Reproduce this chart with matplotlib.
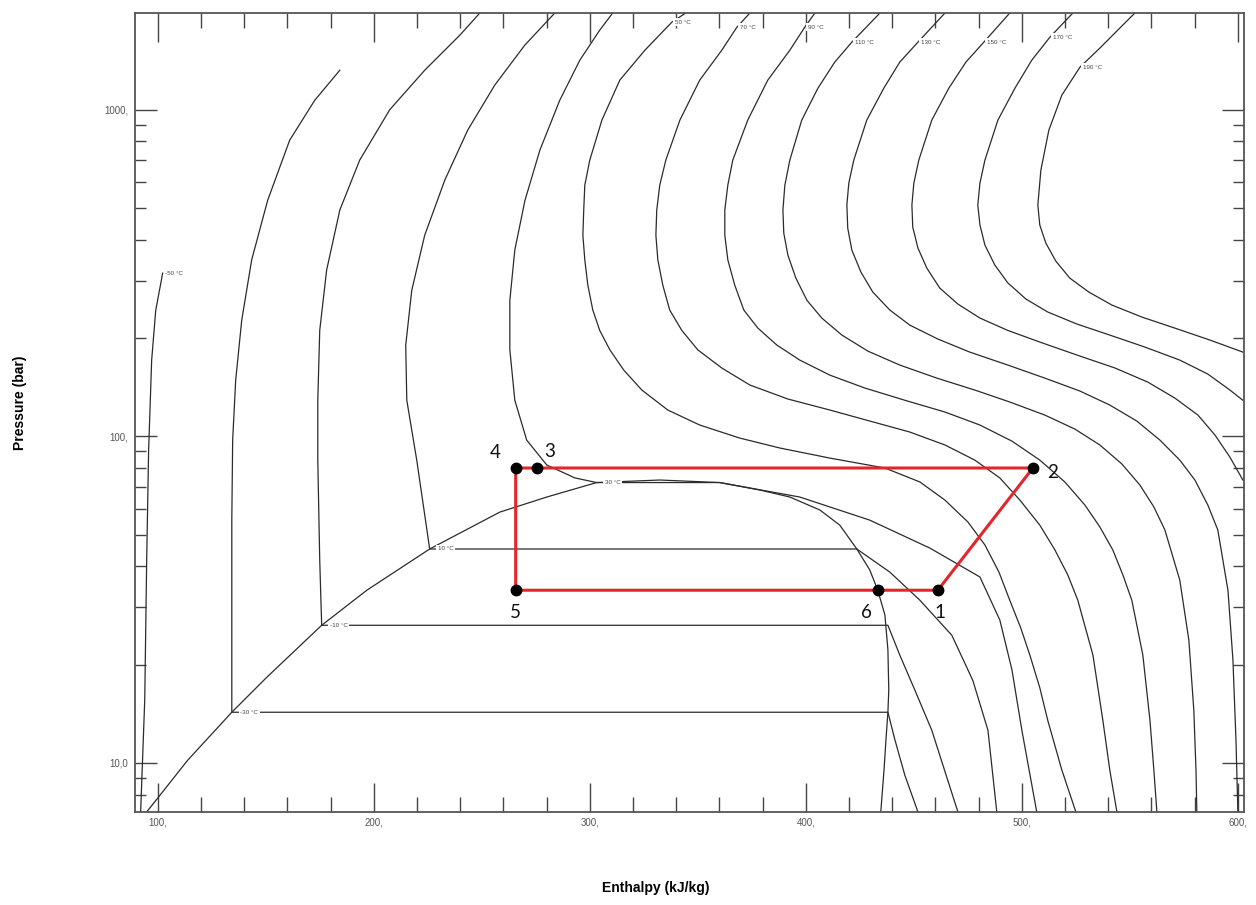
import matplotlib.pyplot as plt
from matplotlib.ticker import FixedLocator

# enthalpy (kJ/kg) and pressure (bar)

# saturation dome: liquid side up to the critical point, then vapour side
sat_h = [94.9, 113.9, 134.3, 150.5, 175.9, 196.8, 225.9, 258.3, 280.1, 303.2, 332.4,
         360.2, 378.7, 392.6, 406.5, 415.7, 423.6, 429.6, 433.3, 436.6, 438.0, 438.4,
         438.0, 437.1, 436.2, 434.7]
sat_p = [7.08, 10.2, 14.3, 18.3, 26.4, 33.8, 45.2, 58.6, 65.2, 72.2, 73.5,
         72.2, 68.5, 65.2, 59.5, 53.5, 45.2, 39.0, 33.8, 28.4, 22.2, 16.7,
         14.3, 11.8, 9.52, 7.08]

# isotherms, each listed from its upper end downwards
iso_m50_h = [102.3, 99.1, 97.2, 95.8, 94.9, 94.0, 92.1]
iso_m50_p = [316, 243.6, 171, 90.8, 41.8, 15.6, 7.08]

iso_m30_h = [184.3, 172.7, 161.1, 150.9, 143.5, 138.9, 136.1, 134.7, 134.3, 134.3, 134.3,
             438.0, 441.2, 445.8, 451.9]
iso_m30_p = [1321, 1069, 807, 528, 347, 227, 148.7, 97.4, 55.4, 27.4, 14.3,
             14.3, 11.8, 9.19, 7.08]

iso_m10_h = [249.1, 239.8, 223.6, 207.4, 193.5, 184.3, 178.2, 175.0, 174.1, 174.1, 175.0, 175.9,
             438.0, 443.5, 450.5, 458.3, 470.4]
iso_m10_p = [1977, 1690, 1321, 1000, 701, 493, 323, 211, 129, 84.6, 41.8, 26.4,
             26.4, 21.4, 16.7, 12.6, 7.08]

iso_10_h = [283.8, 269.9, 256.0, 243.5, 232.9, 223.6, 217.6, 214.8, 215.3, 219.9, 225.9,
            423.6, 438.9, 452.8, 467.6, 477.3, 484.3, 488.4]
iso_10_p = [1977, 1576, 1189, 866, 609, 413, 280, 190, 129, 84.6, 45.2,
            45.2, 38.4, 31.5, 24.6, 17.9, 12.6, 7.08]

iso_30_h = [310.6, 304.6, 295.4, 286.1, 276.9, 270.0, 265.3, 263.0, 263.0, 265.3, 270.8, 280.1,
            293.1, 303.2, 360.2, 397.2, 429.6, 457.4, 480.6, 489.8, 495.4, 500.0, 506.9]
iso_30_p = [1977, 1752, 1418, 1069, 752, 528, 372, 261, 184, 129, 97.4, 81.7,
            74.6, 72.2, 72.2, 65.2, 55.4, 45.5, 37.1, 27.4, 19.3, 12.6, 7.08]

iso_50_h = [344.4, 338.0, 325.5, 313.9, 305.6, 300.0, 297.7, 297.2, 296.8, 297.7, 299.1, 301.4,
            304.6, 309.3, 315.7, 324.1, 336.1, 350.9, 369.4, 388.0, 411.1, 436.6, 452.8, 464.4,
            475.0, 482.9, 489.4, 494.4, 499.5, 503.7, 508.3, 512.0, 518.5, 525.0]
iso_50_p = [1977, 1854, 1521, 1232, 929, 701, 587.8, 493, 413, 347, 290.4, 243.6,
            211, 184, 159.6, 138.6, 120.4, 108.3, 98.8, 92.1, 85.8, 80.0, 72.5, 63.8,
            54.7, 46.5, 38.4, 31.5, 25.9, 21.4, 17.0, 13.5, 9.52, 7.08]

iso_70_h = [374.1, 368.1, 361.1, 350.9, 341.7, 335.2, 332.4, 331.0, 330.6, 331.5, 333.8, 337.0,
            342.6, 350.0, 361.1, 374.1, 391.7, 411.1, 429.6, 448.1, 464.4, 478.2, 489.8, 499.1,
            508.3, 515.3, 521.3, 525.9, 532.9, 537.5, 540.7, 544.0]
iso_70_p = [1977, 1789, 1521, 1232, 929, 701, 587.8, 493, 413, 347, 290.4, 243.6,
            211, 184, 161.9, 143.6, 130.1, 120.4, 111.4, 103.1, 94.1, 84.6, 74.6, 63.8,
            53.5, 44.9, 37.6, 31.5, 21.4, 13.5, 9.52, 7.08]

iso_90_h = [404.2, 399.5, 392.6, 382.4, 373.1, 366.2, 363.9, 362.5, 362.5, 363.9, 367.1, 371.3,
            377.8, 386.6, 397.2, 411.1, 427.3, 445.8, 464.4, 480.6, 495.4, 508.3, 519.9, 529.2,
            536.1, 542.1, 546.8, 550.9, 556.0, 559.3, 561.1, 562.5]
iso_90_p = [1977, 1789, 1521, 1232, 929, 701, 587.8, 493, 413, 347, 290.4, 243.6,
            214.5, 190.3, 171.2, 154.0, 140.6, 129, 118.7, 108.3, 96.7, 84.6, 72.5, 61.6,
            52.8, 44.9, 37.6, 31.5, 21.4, 13.5, 9.52, 7.08]

iso_110_h = [434.3, 421.3, 413.4, 405.6, 398.1, 392.6, 390.3, 389.4, 389.8, 391.7, 395.4,
             400.5, 407.4, 416.7, 428.7, 443.5, 460.6, 478.2, 494.4, 510.6, 524.5, 536.1,
             546.3, 554.6, 561.1, 566.2, 573.1, 577.3, 579.6, 580.6, 581.0]
iso_110_p = [1977, 1610, 1399, 1164, 929, 701, 587.8, 493, 419, 358.8, 305.1,
             261, 230.2, 204.2, 182.4, 165.3, 150.8, 138.6, 127.4, 116.2, 105.3, 94.1,
             82.3, 71.0, 60.8, 51.7, 36.3, 23.8, 14.5, 9.52, 7.08]

iso_130_h = [464.4, 451.9, 443.5, 436.1, 428.2, 422.2, 419.9, 419.0, 419.4, 421.3, 425.5,
             431.0, 438.9, 448.1, 461.1, 475.9, 493.5, 510.6, 526.9, 540.7, 553.2, 563.9,
             573.1, 580.1, 586.1, 590.7, 595.4, 597.7, 599.1, 600.0]
iso_130_p = [1977, 1610, 1399, 1164, 929, 701, 596, 510.5, 434, 372, 318.4,
             276.5, 243.6, 219.1, 198.6, 181.1, 165.3, 150.8, 137.6, 124.7, 111.4, 97.4,
             84.6, 73.5, 61.6, 51.7, 33.8, 20.7, 11.8, 7.08]

iso_150_h = [494.4, 482.4, 474.1, 466.2, 458.3, 452.3, 450.0, 449.1, 449.5, 451.9, 456.0,
             462.0, 470.4, 480.6, 493.5, 508.3, 525.5, 543.1, 558.3, 570.8, 581.5, 589.4,
             596.3, 602.3]
iso_150_p = [1977, 1610, 1399, 1164, 929, 701, 596, 510.5, 437, 377.1, 327.5,
             284.4, 254.1, 230.2, 211, 194.4, 177.4, 161.9, 146.6, 131.0, 116.2, 100.9,
             86.4, 73.5]

iso_170_h = [523.6, 513.0, 504.6, 496.8, 488.9, 482.9, 480.6, 479.6, 480.6, 482.9, 487.5,
             493.5, 501.9, 512.0, 525.5, 540.7, 556.9, 573.1, 586.1, 596.3, 602.3]
iso_170_p = [1977, 1668, 1418, 1164, 929, 701, 596, 510.5, 443.6, 385.1, 334.5,
             295, 263.2, 240.2, 220.7, 204.2, 187.7, 171.2, 155.1, 138.6, 129]

iso_190_h = [552.3, 536.1, 526.9, 518.5, 512.5, 508.8, 507.4, 508.3, 511.1, 515.7, 522.2,
             531.0, 541.7, 555.6, 570.8, 587.0, 602.3]
iso_190_p = [1977, 1544, 1350, 1108, 866, 653, 510.5, 443.6, 390.6, 344.1, 305.1,
             276.5, 252.3, 231.8, 214.5, 197.2, 181.1]

isotherms = [(iso_m50_h, iso_m50_p), (iso_m30_h, iso_m30_p), (iso_m10_h, iso_m10_p),
             (iso_10_h, iso_10_p), (iso_30_h, iso_30_p), (iso_50_h, iso_50_p),
             (iso_70_h, iso_70_p), (iso_90_h, iso_90_p), (iso_110_h, iso_110_p),
             (iso_130_h, iso_130_p), (iso_150_h, iso_150_p), (iso_170_h, iso_170_p),
             (iso_190_h, iso_190_p)]

# temperature labels sitting on the curves near the top of the chart
top_labels = ["-50 °C", "50 °C", "70 °C", "90 °C", "110 °C", "130 °C", "150 °C", "170 °C", "190 °C"]
top_label_h = [102.3, 338.0, 368.1, 399.5, 421.3, 451.9, 482.4, 513.0, 526.9]
top_label_p = [316, 1854, 1789, 1789, 1610, 1610, 1610, 1668, 1350]

# labels written where the isotherm meets the saturated liquid line
dome_labels = ["-30 °C", "-10 °C", "10 °C", "30 °C"]
dome_label_h = [134.3, 175.9, 225.9, 303.2]
dome_label_p = [14.3, 26.4, 45.2, 72.2]

# refrigeration cycle
cycle_names = ["1", "2", "3", "4", "5", "6"]
cycle_h = [461.1, 505.1, 275.5, 265.7, 265.7, 433.3]
cycle_p = [33.8, 80.0, 80.0, 80.0, 33.8, 33.8]
cycle_path = [4, 5, 0, 1, 2, 3, 4]
name_offsets = [(1.5, -16), (14, -3), (9, 12), (-15, 11), (0, -16), (-8, -16)]

x_ticks = [100, 200, 300, 400, 500, 600]
x_tick_labels = ["100,", "200,", "300,", "400,", "500,", "600,"]
y_ticks = [10, 100, 1000]
y_tick_labels = ["10,0", "100,", "1000,"]

plt.rcParams["font.family"] = ["Liberation Sans", "DejaVu Sans"]

fig, ax = plt.subplots(figsize=(12.56, 9.05), dpi=100)
fig.subplots_adjust(left=0.1075, right=0.9904, top=0.9856, bottom=0.1028)

line_color = "#2b2b2b"
ax.plot(sat_h, sat_p, color=line_color, lw=0.9)
for h, p in isotherms:
    ax.plot(h, p, color=line_color, lw=0.9, solid_joinstyle="round")

label_box = dict(boxstyle="square,pad=0.25", fc="white", ec="none")
for text, h, p in zip(top_labels, top_label_h, top_label_p):
    ax.annotate(text, (h, p), xytext=(2, 0), textcoords="offset points",
                fontsize=4.5, color="#444444", ha="left", va="center", bbox=label_box)

for text, h, p in zip(dome_labels, dome_label_h, dome_label_p):
    ax.annotate(text, (h, p), xytext=(6, 0), textcoords="offset points",
                fontsize=4.5, color="#444444", ha="left", va="center", bbox=label_box)

ax.plot([cycle_h[i] for i in cycle_path], [cycle_p[i] for i in cycle_path],
        color="#e3262b", lw=2.2, zorder=4)
ax.plot(cycle_h, cycle_p, "o", color="black", ms=7.5, zorder=5)
for name, h, p, off in zip(cycle_names, cycle_h, cycle_p, name_offsets):
    ax.annotate(name, (h, p), xytext=off, textcoords="offset points",
                fontsize=13.5, ha="center", va="center", color="#111111",
                family=["Lato", "DejaVu Sans"])

ax.set_yscale("log")
ax.set_xlim(89.5, 602.8)
ax.set_ylim(7.08, 1977)

ax.xaxis.set_major_locator(FixedLocator(x_ticks))
ax.set_xticklabels(x_tick_labels)
ax.xaxis.set_minor_locator(FixedLocator(range(80, 620, 20)))
ax.yaxis.set_major_locator(FixedLocator(y_ticks))
ax.set_yticklabels(y_tick_labels)
ax.yaxis.set_minor_locator(FixedLocator([m * d for d in (1, 10, 100, 1000) for m in range(2, 10)]))
ax.yaxis.set_minor_formatter(plt.NullFormatter())

ax.tick_params(axis="x", which="major", direction="in", length=21, width=1.0,
               top=True, bottom=True, labelsize=7, labelcolor="#555555", color="#444444", pad=4)
ax.tick_params(axis="x", which="minor", direction="in", length=10.5, width=1.0,
               top=True, bottom=True, color="#444444")
ax.tick_params(axis="y", which="major", direction="in", length=16, width=1.0,
               left=True, right=True, labelsize=7, labelcolor="#555555", color="#444444", pad=5)
ax.tick_params(axis="y", which="minor", direction="in", length=8, width=1.0,
               left=True, right=True, color="#444444")
for spine in ax.spines.values():
    spine.set_color("#555555")
    spine.set_linewidth(1.3)

fig.text(0.522, 0.011, "Enthalpy (kJ/kg)", fontsize=10, fontweight="bold",
         ha="center", va="bottom")
fig.text(0.016, 0.555, "Pressure (bar)", fontsize=10, fontweight="bold",
         rotation=90, ha="center", va="center")

plt.savefig("out.png", dpi=100)
